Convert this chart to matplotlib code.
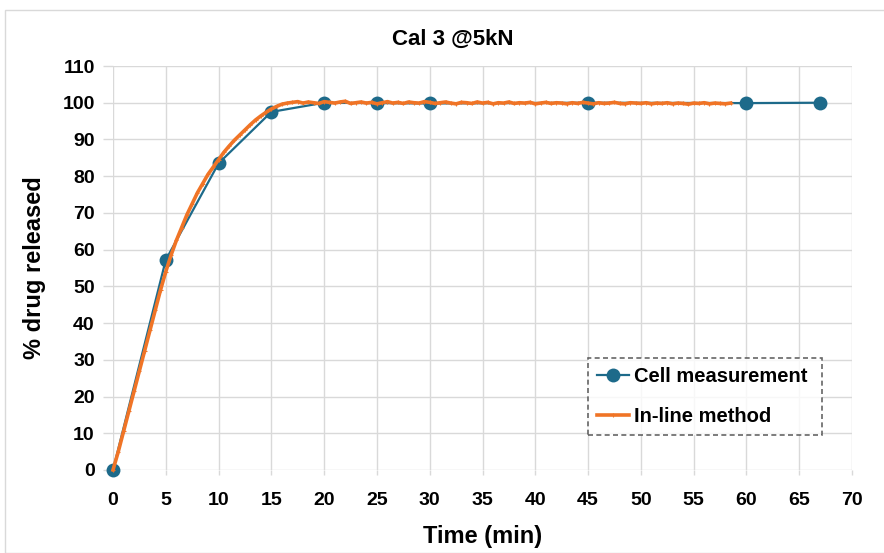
import matplotlib
matplotlib.use("Agg")
import matplotlib.pyplot as plt
from matplotlib.patches import Rectangle

# Cell measurement
cell_time = [0, 5, 10, 15, 20, 25, 30, 45, 60, 67]
cell_release = [0, 57.2, 83.5, 97.5, 100, 99.9, 99.8, 100, 99.9, 100]

# In-line method (sampled every 0.5 min)
inline_release = [
    0, 5, 10.5, 16, 21.5, 27, 32.5, 38, 43.5, 49,
    54, 58.5, 62.5, 66, 69.5, 72.5, 75.5, 78, 80.5, 82.5,
    84.5, 86.5, 88.2, 89.8, 91.2, 92.6, 94, 95.3, 96.4, 97.4,
    98.3, 99.0, 99.6, 99.9, 100.1, 100.3, 99.9, 100.2, 100.0, 99.8,
    100.3, 100.1, 99.9, 100.2, 100.4, 99.8, 100.0, 100.2, 99.9, 100.1,
    99.7, 100.0, 100.3, 99.9, 100.1, 99.8, 100.2, 100.0, 99.9, 100.3,
    100.1, 99.8, 100.0, 100.2, 99.9, 99.7, 100.1, 100.0, 99.8, 100.2,
    99.9, 100.1, 99.7, 100.0, 99.9, 100.2, 99.8, 100.0, 99.9, 100.1,
    99.7, 99.9, 100.1, 99.8, 100.0, 99.9, 99.7, 100.0, 99.8, 100.1,
    99.9, 99.7, 100.0, 99.8, 99.9, 100.1, 99.8, 99.7, 100.0, 99.9,
    99.8, 100.0, 99.7, 99.9, 99.8, 100.0, 99.7, 99.9, 99.8, 99.6,
    99.9, 99.8, 100.0, 99.7, 99.9, 99.8, 99.7, 99.9,
]
inline_time = [0.5 * i for i in range(len(inline_release))]

x_ticks = list(range(0, 75, 5))
y_ticks = list(range(0, 120, 10))

title = "Cal 3 @5kN"
xlabel = "Time (min)"
ylabel = "% drug released"

blue = "#1d6a8a"
orange = "#f07426"

plt.rcParams['font.family'] = ['Liberation Sans', 'DejaVu Sans']

fig = plt.figure(figsize=(8.84, 5.53), dpi=100)
fig.patches.append(Rectangle((5 / 884, 0), 1, 1 - 10 / 553, transform=fig.transFigure,
                             fill=False, edgecolor='#d9d9d9', linewidth=1.0))
ax = fig.add_axes([113 / 884, 1 - 470 / 553, (852 - 113) / 884, (470 - 66) / 553])

ax.plot(cell_time, cell_release, color=blue, linewidth=1.6, marker='o', markersize=10,
        markeredgewidth=0, label='Cell measurement', zorder=2, clip_on=False)
ax.plot(inline_time, inline_release, color=orange, linewidth=2.6, marker='+', markersize=3,
        markeredgewidth=0.8, label='In-line method', zorder=3, clip_on=False)

ax.set_xlim(0, 70)
ax.set_ylim(0, 110)
ax.set_xticks(x_ticks)
ax.set_yticks(y_ticks)
ax.grid(True, color='#d9d9d9', linewidth=1.0)
ax.set_axisbelow(True)
for s in ax.spines.values():
    s.set_visible(False)
ax.tick_params(axis='y', length=7.2, width=1.0, color='#d9d9d9', labelsize=14, pad=6)
ax.tick_params(axis='x', length=3.5, width=1.0, color='#d9d9d9', labelsize=14, pad=12)
for lab in ax.get_xticklabels() + ax.get_yticklabels():
    lab.set_fontweight('bold')

fig.text(453 / 884, 1 - 39 / 553, title, fontsize=16, fontweight='bold',
         ha='center', va='center')
ax.set_xlabel(xlabel, fontsize=17, fontweight='bold', labelpad=12)
ax.set_ylabel(ylabel, fontsize=17, fontweight='bold', labelpad=12)

leg = ax.legend(loc='lower left', bbox_to_anchor=((588 - 113) / 739, (470 - 435) / 404,
                                                   (822 - 588) / 739, (435 - 357) / 404),
                mode='expand', fontsize=14.5, frameon=True, fancybox=False,
                borderaxespad=0, handlelength=1.6, handletextpad=0.25,
                labelspacing=1.05, borderpad=0.45)
frame = leg.get_frame()
frame.set_edgecolor('#404040')
frame.set_linestyle((0, (3, 2)))
frame.set_linewidth(1.2)
for t in leg.get_texts():
    t.set_fontweight('bold')

fig.savefig("out.png", dpi=100)
